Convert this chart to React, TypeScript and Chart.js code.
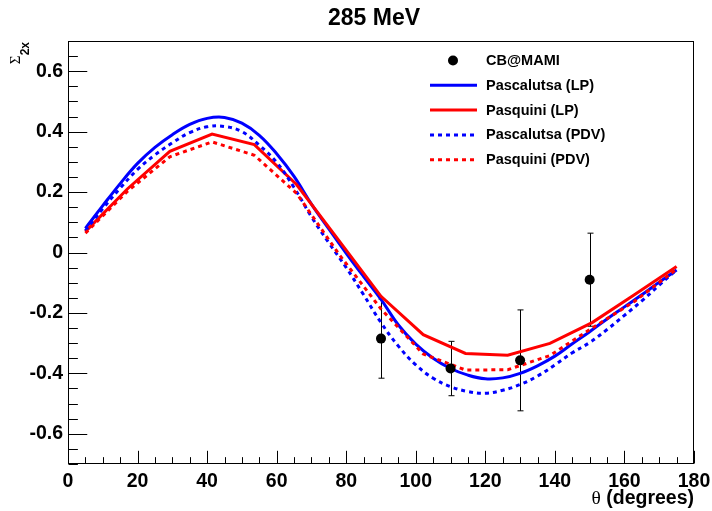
import React, { useEffect, useRef } from "react";
import { Chart, registerables } from "chart.js";

Chart.register(...registerables);

const FONT = '"Liberation Sans", Arial, Helvetica, sans-serif';
const SERIF = '"Liberation Serif", "Times New Roman", serif';

const chartTitle = "285 MeV";
const xAxisTitle = "(degrees)";
const xAxisSymbol = "θ";
const yAxisSymbol = "Σ";
const yAxisSub = "2x";

const xTickValues = [0, 20, 40, 60, 80, 100, 120, 140, 160, 180];
const yTickValues = [-0.6, -0.4, -0.2, 0, 0.2, 0.4, 0.6];

// CB@MAMI data
const dataAngles = [90, 110, 130, 150];
const dataValues = [-0.285, -0.384, -0.357, -0.09];
const dataErrors = [0.131, 0.09, 0.167, 0.154];

// Pascalutsa curves (smooth)
const smoothAngles = [5, 10, 15, 20, 25, 30, 35, 40, 45, 50, 55, 60, 65, 70, 75, 80, 85, 90, 95, 100, 105, 110, 115, 120, 125, 130, 135, 140, 145, 150, 155, 160, 165, 170, 175];
const pascalutsaLP = [0.08, 0.155, 0.228, 0.295, 0.348, 0.39, 0.424, 0.444, 0.447, 0.428, 0.388, 0.327, 0.252, 0.16, 0.078, -0.003, -0.08, -0.155, -0.24, -0.303, -0.35, -0.384, -0.406, -0.418, -0.415, -0.4, -0.375, -0.343, -0.302, -0.262, -0.22, -0.18, -0.14, -0.098, -0.058];
const pascalutsaPDV = [0.072, 0.145, 0.213, 0.275, 0.323, 0.363, 0.397, 0.416, 0.417, 0.4, 0.355, 0.298, 0.215, 0.118, 0.032, -0.05, -0.14, -0.232, -0.31, -0.372, -0.416, -0.444, -0.46, -0.466, -0.456, -0.437, -0.409, -0.372, -0.332, -0.298, -0.255, -0.208, -0.16, -0.108, -0.057];

// Pasquini curves (coarse grid)
const pasquiniAngles = [5, 17.14, 29.29, 41.43, 53.57, 65.71, 77.86, 90, 102.14, 114.29, 126.43, 138.57, 150.71, 162.86, 175];
const pasquiniLP = [0.069, 0.211, 0.335, 0.392, 0.357, 0.225, 0.04, -0.145, -0.272, -0.334, -0.34, -0.301, -0.232, -0.14, -0.046];
const pasquiniPDV = [0.064, 0.203, 0.317, 0.366, 0.322, 0.196, -0.005, -0.187, -0.336, -0.389, -0.388, -0.341, -0.25, -0.162, -0.055];

const legendLabels = ["CB@MAMI", "Pascalutsa (LP)", "Pasquini (LP)", "Pascalutsa (PDV)", "Pasquini (PDV)"];

const BLUE = "#0000ff";
const RED = "#ff0000";

const decor = {
  id: "decor",
  beforeDatasetsDraw(chart: any) {
    const { ctx, scales } = chart;
    const x = scales.x;
    const y = scales.y;
    ctx.save();
    ctx.strokeStyle = "#000";
    ctx.lineWidth = 1;
    dataAngles.forEach((a, i) => {
      const px = Math.round(x.getPixelForValue(a)) + 0.5;
      const y1 = y.getPixelForValue(dataValues[i] + dataErrors[i]);
      const y2 = y.getPixelForValue(dataValues[i] - dataErrors[i]);
      ctx.beginPath();
      ctx.moveTo(px, y1);
      ctx.lineTo(px, y2);
      ctx.moveTo(px - 3, y1);
      ctx.lineTo(px + 3, y1);
      ctx.moveTo(px - 3, y2);
      ctx.lineTo(px + 3, y2);
      ctx.stroke();
    });
    ctx.restore();
  },
  afterDraw(chart: any) {
    const { ctx, chartArea, scales } = chart;
    const x = scales.x;
    const y = scales.y;
    const { left, right, top, bottom } = chartArea;
    ctx.save();
    // frame
    ctx.strokeStyle = "#000";
    ctx.lineWidth = 1;
    const L = Math.round(left) + 0.5;
    const R = Math.round(right) - 0.5;
    const T = Math.round(top) + 0.5;
    const B = Math.round(bottom) - 0.5;
    ctx.strokeRect(L, T, R - L, B - T);
    // x ticks (inward)
    const xMajor = (bottom - top) * 0.03;
    ctx.beginPath();
    for (let v = 0; v <= 180; v += 5) {
      const px = Math.round(x.getPixelForValue(v)) + 0.5;
      const len = v % 20 === 0 ? xMajor : xMajor / 2;
      ctx.moveTo(px, B);
      ctx.lineTo(px, B - len);
    }
    // y ticks (inward)
    const yMajor = (right - left) * 0.03;
    for (let k = -14; k <= 14; k++) {
      const v = k * 0.05;
      const py = Math.round(y.getPixelForValue(v)) + 0.5;
      const len = k % 4 === 0 && Math.abs(k) <= 12 ? yMajor : yMajor / 2;
      ctx.moveTo(L, py);
      ctx.lineTo(L + len, py);
    }
    ctx.stroke();

    // title
    ctx.fillStyle = "#000";
    ctx.font = `bold 23px ${FONT}`;
    ctx.textAlign = "center";
    ctx.textBaseline = "alphabetic";
    ctx.fillText(chartTitle, 374, 25);

    // x axis title
    ctx.font = `bold 19.5px ${FONT}`;
    const wDeg = ctx.measureText(" " + xAxisTitle).width;
    ctx.textAlign = "left";
    ctx.fillText(" " + xAxisTitle, right - wDeg, 504);
    ctx.font = `19.5px ${SERIF}`;
    ctx.textAlign = "right";
    ctx.fillText(xAxisSymbol, right - wDeg, 504);

    // y axis title (rotated)
    ctx.save();
    ctx.rotate(-Math.PI / 2);
    ctx.textAlign = "right";
    ctx.font = `bold 12px ${FONT}`;
    ctx.fillText(yAxisSub, -42, 29);
    ctx.font = `15px ${SERIF}`;
    ctx.fillText(yAxisSymbol, -55.5, 20);
    ctx.restore();

    // legend
    const ds = chart.data.datasets;
    ctx.font = `bold 14.5px ${FONT}`;
    ctx.textAlign = "left";
    ctx.textBaseline = "middle";
    legendLabels.forEach((lab, i) => {
      const ly = 60.5 + i * 24.8;
      const d = ds.find((dd: any) => dd.label === lab);
      if (d.showLine === false) {
        ctx.beginPath();
        ctx.fillStyle = "#000";
        ctx.arc(453, ly, 5, 0, Math.PI * 2);
        ctx.fill();
      } else {
        ctx.beginPath();
        ctx.strokeStyle = d.borderColor;
        ctx.lineWidth = d.borderWidth;
        ctx.setLineDash(d.borderDash || []);
        ctx.moveTo(430, ly);
        ctx.lineTo(477, ly);
        ctx.stroke();
        ctx.setLineDash([]);
      }
      ctx.fillStyle = "#000";
      ctx.fillText(lab, 486, ly + 0.5);
    });
    ctx.restore();
  },
};

export default function App() {
  const ref = useRef<HTMLCanvasElement | null>(null);
  useEffect(() => {
    if (!ref.current) return;
    const toXY = (xs: number[], ys: number[]) => xs.map((a, i) => ({ x: a, y: ys[i] }));
    const chart = new Chart(ref.current, {
      type: "line",
      data: {
        datasets: [
          {
            label: legendLabels[0],
            data: toXY(dataAngles, dataValues),
            showLine: false,
            pointRadius: 5,
            pointBackgroundColor: "#000",
            pointBorderColor: "#000",
            pointBorderWidth: 0,
            borderColor: "#000",
          },
          {
            label: legendLabels[4],
            data: toXY(pasquiniAngles, pasquiniPDV),
            borderColor: RED,
            borderWidth: 3,
            borderDash: [4, 4],
            pointRadius: 0,
            tension: 0,
          },
          {
            label: legendLabels[3],
            data: toXY(smoothAngles, pascalutsaPDV),
            borderColor: BLUE,
            borderWidth: 3,
            borderDash: [4, 4],
            pointRadius: 0,
            tension: 0.4,
          },
          {
            label: legendLabels[2],
            data: toXY(pasquiniAngles, pasquiniLP),
            borderColor: RED,
            borderWidth: 3,
            pointRadius: 0,
            tension: 0,
          },
          {
            label: legendLabels[1],
            data: toXY(smoothAngles, pascalutsaLP),
            borderColor: BLUE,
            borderWidth: 3,
            pointRadius: 0,
            tension: 0.4,
          },
        ] as any,
      },
      options: {
        animation: false,
        responsive: true,
        maintainAspectRatio: false,
        layout: { padding: { top: 41, right: 18, left: 0, bottom: 0 } },
        plugins: { legend: { display: false }, title: { display: false }, tooltip: { enabled: false } },
        scales: {
          x: {
            type: "linear",
            min: 0,
            max: 180,
            grid: { display: false, drawTicks: false },
            border: { display: false },
            afterBuildTicks: (s: any) => {
              s.ticks = xTickValues.map((v) => ({ value: v }));
            },
            afterFit: (s: any) => {
              s.height = 47;
              s.paddingLeft = 0;
              s.paddingRight = 0;
            },
            ticks: {
              color: "#000",
              padding: 6,
              maxRotation: 0,
              autoSkip: false,
              font: { family: FONT, size: 19.5, weight: "bold" },
              callback: (v: any) => String(v),
            },
          },
          y: {
            type: "linear",
            min: -0.7,
            max: 0.7,
            grid: { display: false, drawTicks: false },
            border: { display: false },
            afterBuildTicks: (s: any) => {
              s.ticks = yTickValues.map((v) => ({ value: v }));
            },
            afterFit: (s: any) => {
              s.width = 68;
              s.paddingTop = 0;
              s.paddingBottom = 0;
            },
            ticks: {
              color: "#000",
              padding: 5,
              autoSkip: false,
              font: { family: FONT, size: 19.5, weight: "bold" },
              callback: (v: any) => (Math.abs(v) < 1e-9 ? "0" : Number(v).toFixed(1)),
            },
          },
        },
      },
      plugins: [decor],
    } as any);
    return () => chart.destroy();
  }, []);
  return (
    <div style={{ position: "fixed", left: 0, top: 0, width: 712, height: 511, background: "#fff" }}>
      <canvas ref={ref} />
    </div>
  );
}
